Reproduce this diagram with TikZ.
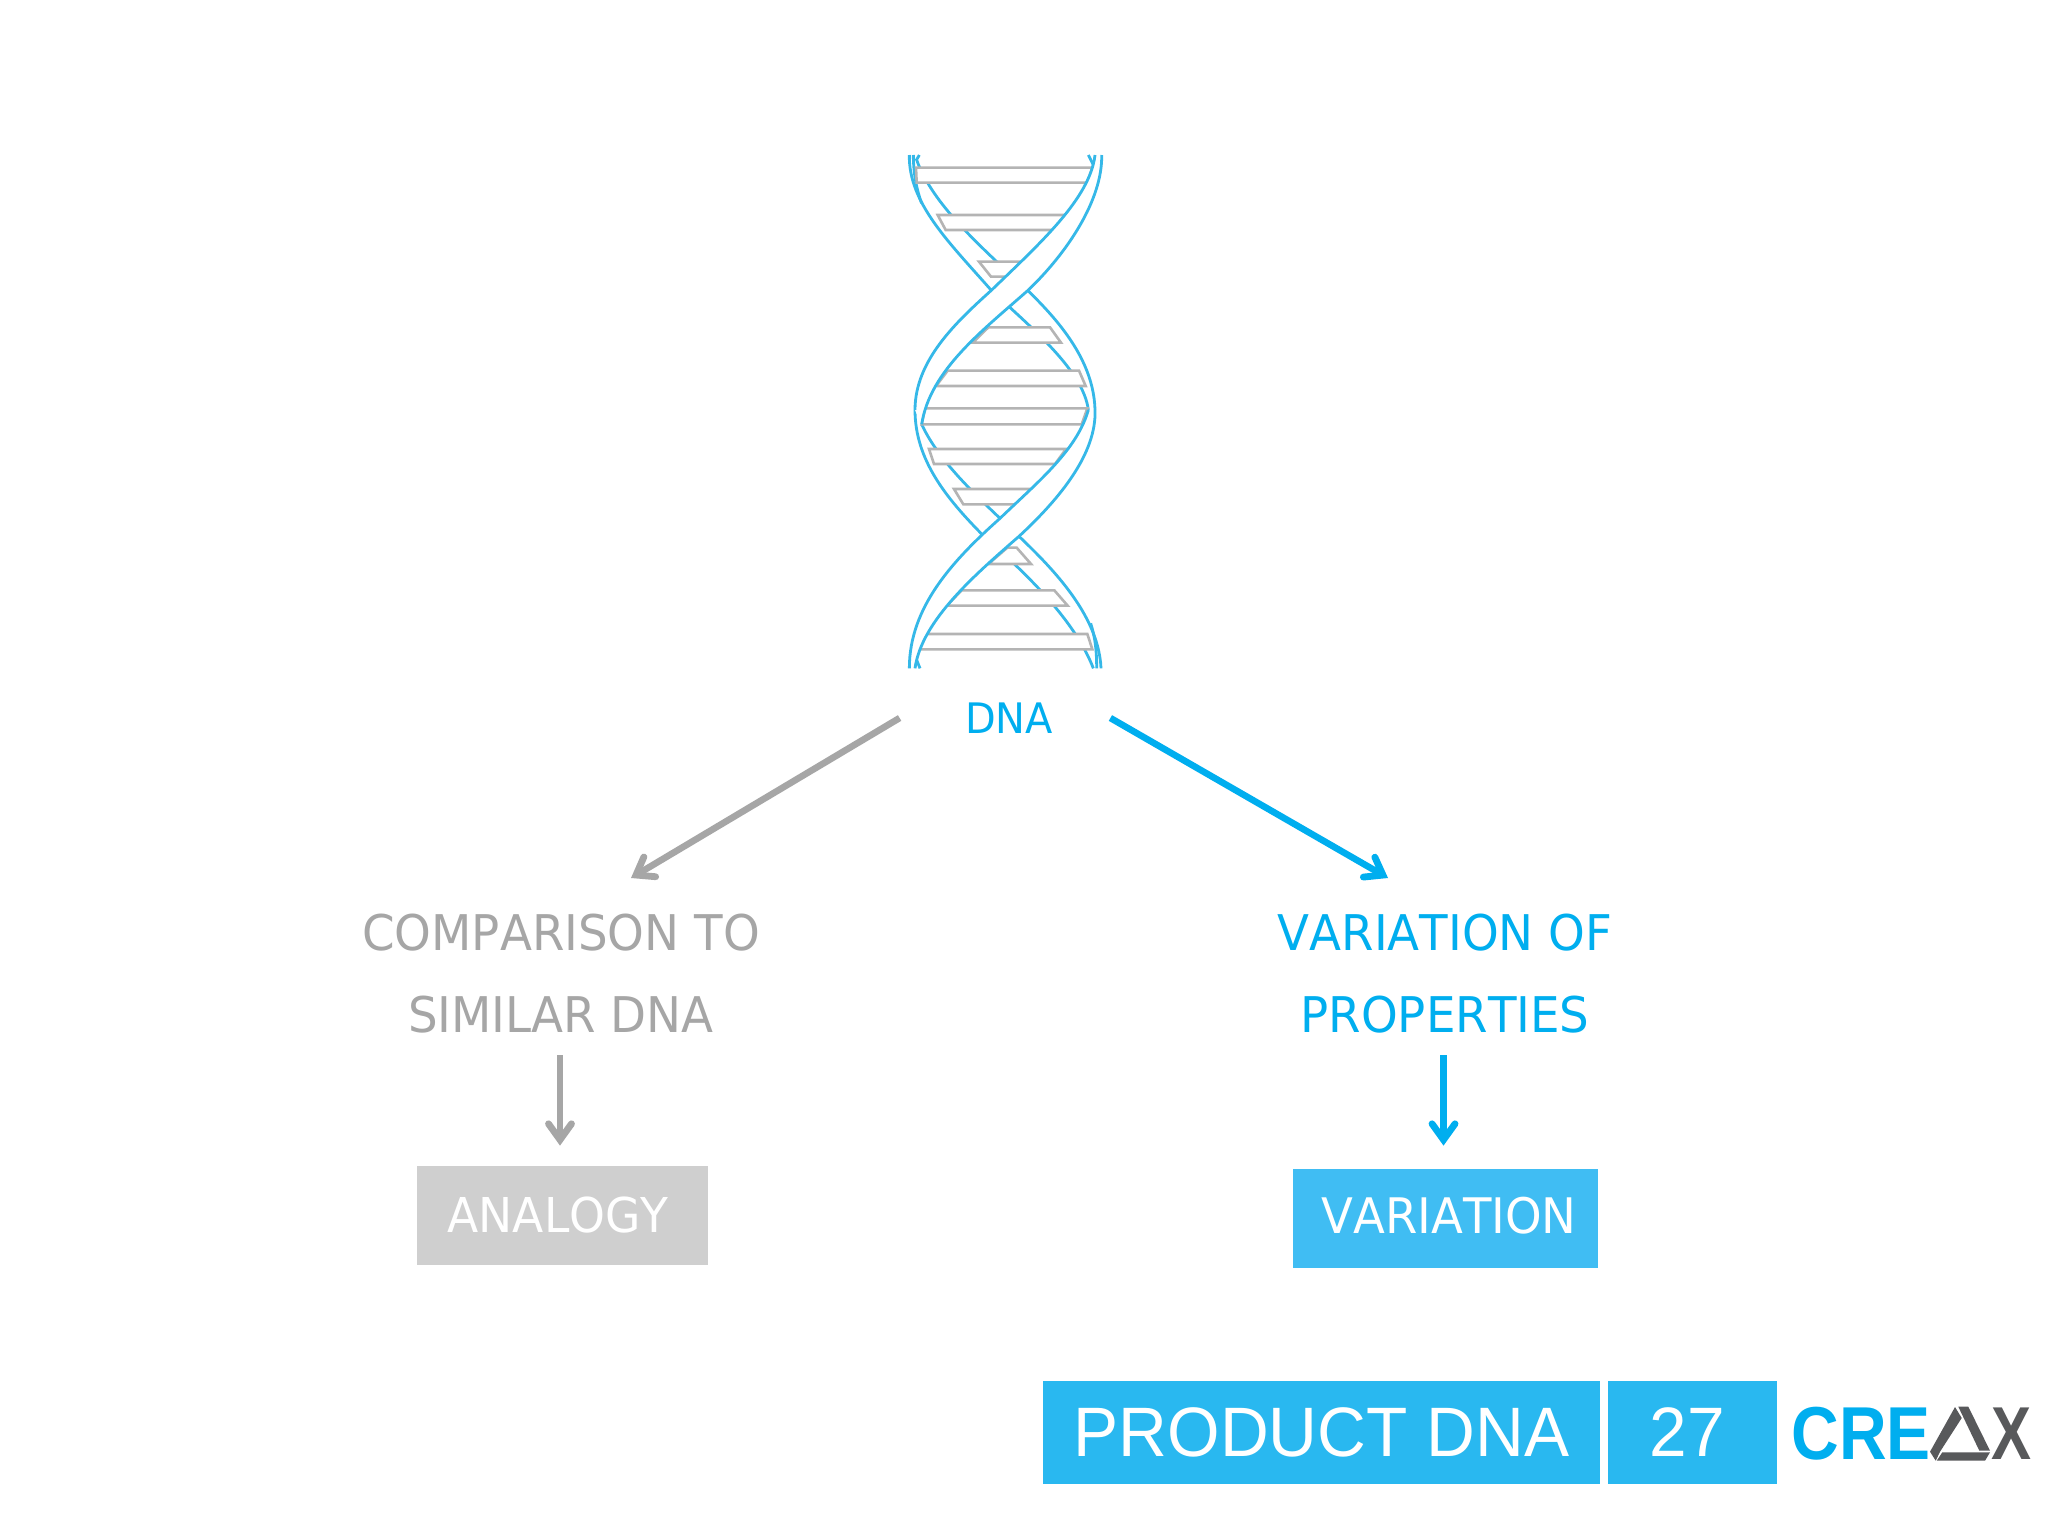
\documentclass[tikz,border=0pt]{standalone}
\usepackage{fontspec}
\usetikzlibrary{arrows.meta}
\setmainfont{Liberation Sans}
\newfontfamily\lab[FakeStretch=0.95,Kerning=Off]{DejaVu Sans}
\definecolor{cblue}{HTML}{00AEEF}
\definecolor{cgray}{HTML}{A6A6A6}
\definecolor{strandc}{HTML}{35B8E8}
\definecolor{rungc}{HTML}{B4B4B4}
\definecolor{vbox}{HTML}{40BDF3}
\definecolor{abox}{HTML}{CFCFCF}
\definecolor{fbox}{HTML}{29B8F0}
\definecolor{logog}{HTML}{58595B}
\tikzset{
  strandl/.style={draw=strandc,line width=1.4pt},
  rungl/.style={draw=rungc,line width=1.3pt,fill=white,line join=miter},
  bigtxt/.style={font=\lab\fontsize{24.6}{41}\selectfont,inner sep=0pt,align=center},
  boxtxt/.style={font=\lab\fontsize{24.5}{30}\selectfont,text=white,inner sep=0pt,anchor=center},
  footbox/.style={fill=fbox,text=white,font=\fontsize{35}{40}\selectfont,inner sep=0pt,minimum height=51.5pt},
  arrowg/.style={draw=cgray,line width=3.3pt,-{Straight Barb[length=8pt,width=11.5pt,line cap=round,line width=3.4pt]}},
  arrowb/.style={draw=cblue,line width=3.3pt,-{Straight Barb[length=8pt,width=11.5pt,line cap=round,line width=3.4pt]}},
}
\begin{document}
\begin{tikzpicture}[x=0.5pt,y=-0.5pt]
\useasboundingbox (0,0) rectangle (2048,1536);
\fill[white] (0,0) rectangle (2048,1536);
% helix
\begin{scope}[x=0.16667pt,y=-0.16667pt,xshift=440pt,yshift=-70pt]
  % back strands
  \draw[strandl] (88,45) .. controls (85,190) and (210,310) .. (333,450) .. controls (450,560) and (610,690) .. (625,810);
  \draw[strandl] (110,60) .. controls (150,170) and (250,270) .. (350,365) .. controls (470,475) and (640,620) .. (645,810);
  \draw[strandl] (105,810) .. controls (105,960) and (200,1075) .. (305,1182) .. controls (420,1285) and (580,1430) .. (640,1585);
  \draw[strandl] (125,853) .. controls (170,950) and (260,1040) .. (360,1135) .. controls (470,1240) and (655,1400) .. (663,1585);
  % extra strand ends
  \draw[strandl] (100,45) .. controls (100,100) and (110,150) .. (125,190);
  \draw[strandl] (118,45) -- (108,62);
  \draw[strandl] (625,45) -- (640,75);
  \draw[strandl] (650,1585) .. controls (650,1530) and (645,1490) .. (632,1450);
  \draw[strandl] (108,1555) -- (120,1585);
  % rungs
  \draw[rungl] (108,83) -- (637,83) -- (622,128) -- (110,128) -- cycle;
  \draw[rungl] (173,225) -- (565,225) -- (525,270) -- (197,270) -- cycle;
  \draw[rungl] (297,365) -- (425,365) -- (378,410) -- (333,410) -- cycle;
  \draw[rungl] (325,562) -- (510,562) -- (543,608) -- (278,608) -- cycle;
  \draw[rungl] (203,692) -- (597,692) -- (617,738) -- (168,738) -- cycle;
  \draw[rungl] (135,805) -- (622,805) -- (605,853) -- (125,853) -- cycle;
  \draw[rungl] (147,927) -- (558,927) -- (525,972) -- (162,972) -- cycle;
  \draw[rungl] (222,1047) -- (455,1047) -- (405,1093) -- (250,1093) -- cycle;
  \draw[rungl] (382,1223) -- (410,1223) -- (453,1272) -- (325,1272) -- cycle;
  \draw[rungl] (245,1351) -- (523,1351) -- (563,1397) -- (200,1397) -- cycle;
  \draw[rungl] (140,1482) -- (622,1482) -- (637,1528) -- (118,1528) -- cycle;
  % front strands
  \fill[white] (645,45) .. controls (630,175) and (480,310) .. (335,450) .. controls (230,545) and (105,660) .. (105,810) -- (125,853) .. controls (150,690) and (310,570) .. (445,450) .. controls (560,340) and (668,180) .. (665,45) -- cycle;
  \fill[white] (625,810) .. controls (590,930) and (480,1020) .. (360,1135) .. controls (220,1260) and (88,1400) .. (88,1585) -- (105,1585) .. controls (125,1440) and (290,1300) .. (418,1188) .. controls (540,1075) and (650,940) .. (645,810) -- cycle;
  \draw[strandl] (645,45) .. controls (630,175) and (480,310) .. (335,450) .. controls (230,545) and (105,660) .. (105,810);
  \draw[strandl] (125,853) .. controls (150,690) and (310,570) .. (445,450) .. controls (560,340) and (668,180) .. (665,45);
  \draw[strandl] (625,810) .. controls (590,930) and (480,1020) .. (360,1135) .. controls (220,1260) and (88,1400) .. (88,1585);
  \draw[strandl] (105,1585) .. controls (125,1440) and (290,1300) .. (418,1188) .. controls (540,1075) and (650,940) .. (645,810);
\end{scope}
% labels and boxes
\node[font=\lab\fontsize{21}{26}\selectfont,text=cblue,inner sep=0pt,minimum width=105pt,minimum height=20pt] (dna) at (1005,718) {\hspace*{4pt}DNA};
\node[bigtxt,text=cgray,anchor=south] (cmp) at (561,1034) {COMPARISON TO\\SIMILAR DNA};
\node[bigtxt,text=cblue,anchor=south] (var) at (1445,1034) {VARIATION OF\\PROPERTIES};
\node[fill=abox,minimum width=145.5pt,minimum height=49.5pt,inner sep=0pt] (ana) at (562,1215.5) {};
\node[boxtxt,font=\lab\fontsize{24}{30}\selectfont] (anat) at (558,1215) {ANALOGY};
\node[fill=vbox,minimum width=152.5pt,minimum height=49.5pt,inner sep=0pt] (vari) at (1445.5,1218.5) {};
\node[boxtxt] (varit) at (1449,1216) {VARIATION};
\coordinate (cmpin) at (631,878);
\coordinate (varin) at (1388,878);
\draw[arrowg] (dna.west) -- (cmpin);
\draw[arrowb] (dna.east) -- (varin);
\draw[arrowg,shorten <=10.5pt,shorten >=10pt] ([xshift=-0.5pt]cmp.south) -- ([xshift=-0.5pt]cmp.south |- ana.north);
\draw[arrowb,shorten <=10.5pt,shorten >=11.5pt] ([xshift=-0.75pt]var.south) -- ([xshift=-0.75pt]var.south |- vari.north);
% footer
\node[footbox,minimum width=278.5pt] (foot) at (1321.5,1432.5) {\raisebox{-1.2pt}{\scalebox{0.965}[1]{PRODUCT DNA}}};
\node[footbox,minimum width=84.5pt] (num) at (1692.5,1432.5) {\hspace{-5pt}\raisebox{-1.2pt}{\scalebox{0.965}[1]{27}}};
% logo
\node[font=\bfseries\fontsize{37.5}{40}\selectfont,text=cblue,inner sep=0pt] (cre) at (1861,1434) {\scalebox{0.88}[1]{CRE}};
\node[font=\bfseries\fontsize{37.5}{40}\selectfont,text=logog,inner sep=0pt] (xlet) at (2011,1434) {\scalebox{0.8}[1]{X}};
\fill[logog] (1955,1407) -- (1961.7,1418) -- (1940,1451.7) -- (1935.7,1460.7) -- (1930,1451.7) -- cycle;
\fill[logog] (1958.3,1406.7) -- (1968.3,1406.7) -- (1990,1450.7) -- (1979.3,1450.7) -- cycle;
\fill[logog] (1942.3,1452.3) -- (1990,1452.3) -- (1985,1460.7) -- (1936.7,1460.7) -- cycle;
\end{tikzpicture}
\end{document}
